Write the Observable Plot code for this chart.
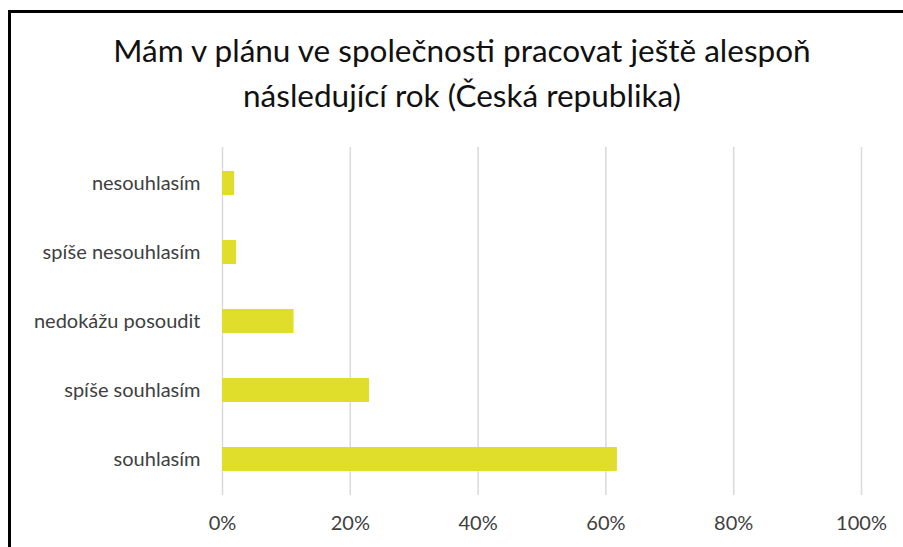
<!DOCTYPE html>
<html>
<head>
<meta charset="utf-8">
<script src="https://cdn.jsdelivr.net/npm/d3@7"></script>
<script src="https://cdn.jsdelivr.net/npm/@observablehq/plot@0.6"></script>
<style>
  html, body { margin: 0; padding: 0; background: #fff; }
  #wrap { position: relative; width: 903px; height: 547px; overflow: hidden; background: #fff; }
  #frame { position: absolute; left: 8px; top: 10px; width: 1000px; height: 1000px; border-left: 3px solid #000; border-top: 3px solid #000; box-sizing: border-box; }
  #title { position: absolute; left: 0; width: 924px; top: 28px; text-align: center; font-family: Lato, sans-serif; font-size: 31.5px; line-height: 45px; color: #111; }
  #chart { position: absolute; left: 0; top: 0; }
</style>
</head>
<body>
<div id="wrap">
  <div id="chart"></div>
  <div id="frame"></div>
  <div id="title">Mám v plánu ve společnosti pracovat ještě alespoň<br>následující rok (Česká republika)</div>
</div>
<script>
const categories = ["nesouhlasím", "spíše nesouhlasím", "nedokážu posoudit", "spíše souhlasím", "souhlasím"];
const values = [1.9, 2.2, 11.2, 23.0, 61.8];
const xTicks = [0, 20, 40, 60, 80, 100];

const data = categories.map((c, i) => ({category: c, value: values[i]}));

const chart = Plot.plot({
  width: 903,
  height: 547,
  marginTop: 147,
  marginBottom: 52,
  marginLeft: 222,
  marginRight: 42,
  style: {fontFamily: "Lato, sans-serif", fontSize: "20px", color: "#404040", background: "transparent"},
  x: {domain: [0, 100], ticks: xTicks, tickFormat: d => d + "%"},
  y: {domain: categories, paddingInner: 0.655, paddingOuter: 0.3275},
  marks: [
    Plot.ruleX(xTicks, {stroke: "#d9d9d9", strokeWidth: 1.5}),
    Plot.barX(data, {x: "value", y: "category", fill: "#e0dd2b"}),
    Plot.axisX({ticks: xTicks, tickFormat: d => d + "%", tickSize: 0, tickPadding: 20, label: null, fontSize: 20}),
    Plot.axisY({tickSize: 0, tickPadding: 22, label: null, fontSize: 20})
  ]
});
document.getElementById("chart").appendChild(chart);
</script>
</body>
</html>
